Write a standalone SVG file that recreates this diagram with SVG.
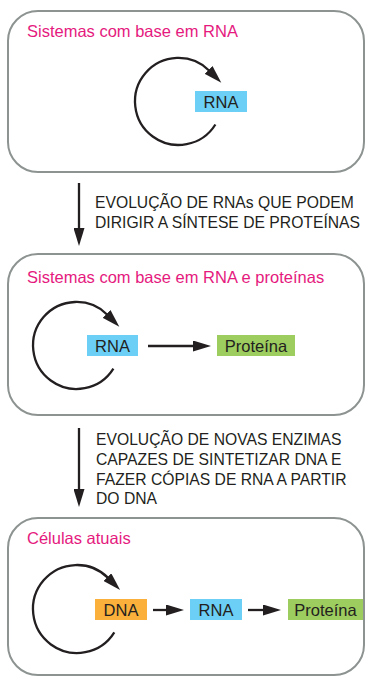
<svg xmlns="http://www.w3.org/2000/svg" width="366" height="677" viewBox="0 0 366 677">
<defs>
<style>
.frame{fill:#fff;stroke:#8c9390;stroke-width:2}
.title{font-family:"Liberation Sans",Arial,sans-serif;font-size:16.5px;fill:#e5197e}
.lbl{font-family:"Liberation Sans",Arial,sans-serif;font-size:15.7px;fill:#231f20}
.box{font-family:"Liberation Sans",Arial,sans-serif;font-size:16.5px;fill:#231f20;text-anchor:middle}
.ln{fill:none;stroke:#231f20;stroke-width:2.3}
.rna{fill:#6ccff6}.prot{fill:#9dcc5f}.dna{fill:#fbb03b}
</style>
<marker id="ah" markerUnits="userSpaceOnUse" markerWidth="18" markerHeight="11" refX="1" refY="5.5" orient="auto">
<path d="M0,0 L18,5.5 L0,11 Z" fill="#231f20"/>
</marker>
</defs>
<rect width="366" height="677" fill="#fff"/>
<g id="stage1">
<rect class="frame" x="8" y="11" width="356" height="161" rx="30"/>
<text class="title" x="27" y="37">Sistemas com base em RNA</text>
<rect class="rna" x="195" y="91" width="52" height="21"/>
<text class="box" x="221" y="107.5">RNA</text>
</g>
<g id="stage2">
<rect class="frame" x="8" y="254" width="356" height="161" rx="30"/>
<text class="title" x="27" y="283">Sistemas com base em RNA e proteínas</text>
<rect class="rna" x="87" y="335" width="51" height="21"/>
<text class="box" x="112.5" y="351.5">RNA</text>
<rect class="prot" x="217" y="335" width="78" height="21"/>
<text class="box" x="256" y="351.5">Proteína</text>
</g>
<g id="stage3">
<rect class="frame" x="8" y="518" width="356" height="157" rx="30"/>
<text class="title" x="27" y="544">Células atuais</text>
<rect class="dna" x="95" y="599" width="52" height="21"/>
<text class="box" x="121" y="615.5">DNA</text>
<rect class="rna" x="190" y="599" width="52" height="21"/>
<text class="box" x="216" y="615.5">RNA</text>
<rect class="prot" x="288" y="599" width="75" height="21"/>
<text class="box" x="325.5" y="615.5">Proteína</text>
</g>
<g id="label1">
<text class="lbl" x="95" y="208">EVOLUÇÃO DE RNAs QUE PODEM</text>
<text class="lbl" x="95" y="228">DIRIGIR A SÍNTESE DE PROTEÍNAS</text>
</g>
<g id="label2">
<text class="lbl" x="96" y="445">EVOLUÇÃO DE NOVAS ENZIMAS</text>
<text class="lbl" x="96" y="465">CAPAZES DE SINTETIZAR DNA E</text>
<text class="lbl" x="96" y="485">FAZER CÓPIAS DE RNA A PARTIR</text>
<text class="lbl" x="96" y="504">DO DNA</text>
</g>
<g id="connectors">
<path class="ln" marker-end="url(#ah)" d="M215.4 124.5 A43.5 43.5 0 1 1 209.3 70.7"/>
<path class="ln" marker-end="url(#ah)" d="M113.4 368.6 A43.5 43.5 0 1 1 107.3 314.7"/>
<path class="ln" marker-end="url(#ah)" d="M114.3 632.3 A44 44 0 1 1 108.1 577.9"/>
<path class="ln" marker-end="url(#ah)" d="M79 183 L79 229"/>
<path class="ln" marker-end="url(#ah)" d="M79 428 L79 490"/>
<path class="ln" marker-end="url(#ah)" d="M148 346 L194 346"/>
<path class="ln" marker-end="url(#ah)" d="M153 610 L167 610"/>
<path class="ln" marker-end="url(#ah)" d="M248 610 L264 610"/>
</g>
</svg>
